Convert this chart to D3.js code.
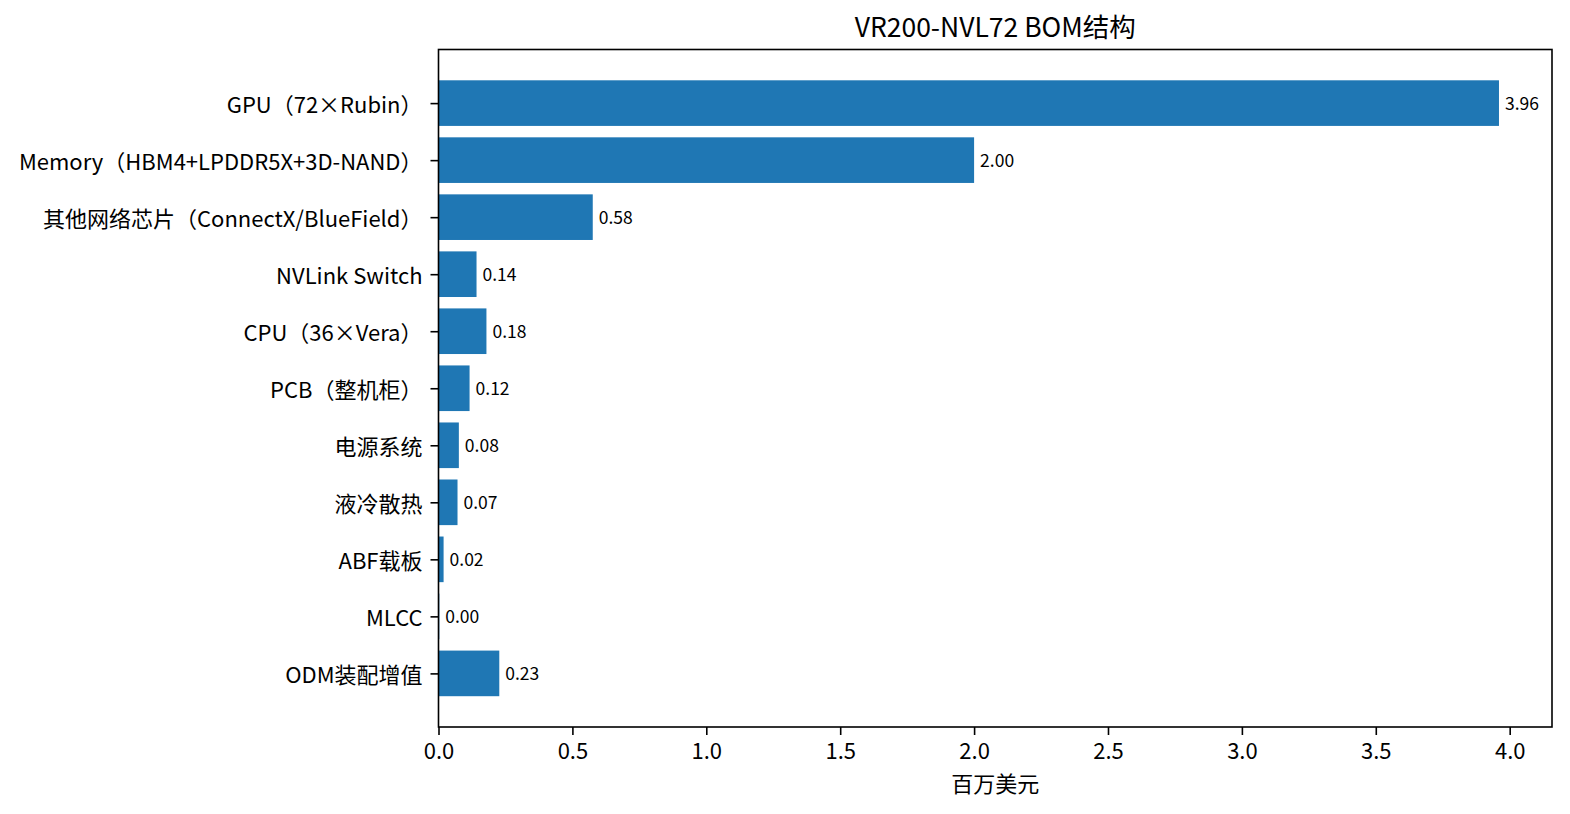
<!DOCTYPE html>
<html><head><meta charset="utf-8">
<script src="https://cdn.jsdelivr.net/npm/d3@7"></script>
<style>
body{margin:0;background:#fff;}
text{font-family:"Noto Sans CJK SC","Noto Sans",sans-serif;fill:#000;}
</style></head><body>
<svg id="c" width="1570" height="814"></svg>
<script>
const categories = ["GPU（72×Rubin）","Memory（HBM4+LPDDR5X+3D-NAND）","其他网络芯片（ConnectX/BlueField）","NVLink Switch","CPU（36×Vera）","PCB（整机柜）","电源系统","液冷散热","ABF载板","MLCC","ODM装配增值"];
const values = [3.96, 2.00, 0.576, 0.142, 0.179, 0.116, 0.076, 0.071, 0.019, 0.003, 0.227];
const xTicks = [0,0.5,1,1.5,2,2.5,3,3.5,4];
const title = "VR200-NVL72 BOM结构";
const xLabel = "百万美元";

const svg = d3.select("#c");
const L=438.5, R=1552, T=49.5, B=727;
const xmax = d3.max(values)*1.05;
const x = d3.scaleLinear().domain([0,xmax]).range([L,R]);
const n = categories.length;
const lo = -0.4, hi = n-1+0.4, m = (hi-lo)*0.05;
const y = d3.scaleLinear().domain([lo-m, hi+m]).range([T,B]);
const bh = Math.abs(y(0.8)-y(0));

svg.append("g").selectAll("rect").data(values).join("rect")
  .attr("x", x(0)).attr("y",(d,i)=>y(i)-bh/2)
  .attr("width", d=>x(d)-x(0)).attr("height", bh).attr("fill","#1f77b4");

svg.append("g").selectAll("text").data(values).join("text")
  .attr("x", d=>x(d)+6).attr("y",(d,i)=>y(i)).attr("dy","0.4em")
  .attr("font-size",17.5).text(d=>d3.format(".2f")(d));

const xa = svg.append("g").attr("transform",`translate(0,${B})`)
  .call(d3.axisBottom(x).tickValues(xTicks).tickFormat(d3.format(".1f")).tickSizeOuter(0).tickSize(8).tickPadding(8));
const ya = svg.append("g").attr("transform",`translate(${L},0)`)
  .call(d3.axisLeft(y).tickValues(d3.range(n)).tickFormat(i=>categories[i]).tickSizeOuter(0).tickSize(8).tickPadding(8));
[xa,ya].forEach(a=>{a.select(".domain").remove(); a.selectAll("line").attr("stroke","#000").attr("stroke-width",1.6);
  a.selectAll("text").attr("font-size",22).attr("font-family",null).attr("fill","#000");});
ya.selectAll("text").attr("dy","0.42em");

svg.append("rect").attr("x",L).attr("y",T).attr("width",R-L).attr("height",B-T)
  .attr("fill","none").attr("stroke","#000").attr("stroke-width",1.6);

svg.append("text").attr("x",(L+R)/2).attr("y",37).attr("text-anchor","middle").attr("font-size",26.5).text(title);
svg.append("text").attr("x",(L+R)/2).attr("y",792).attr("text-anchor","middle").attr("font-size",22).text(xLabel);
</script></body></html>
